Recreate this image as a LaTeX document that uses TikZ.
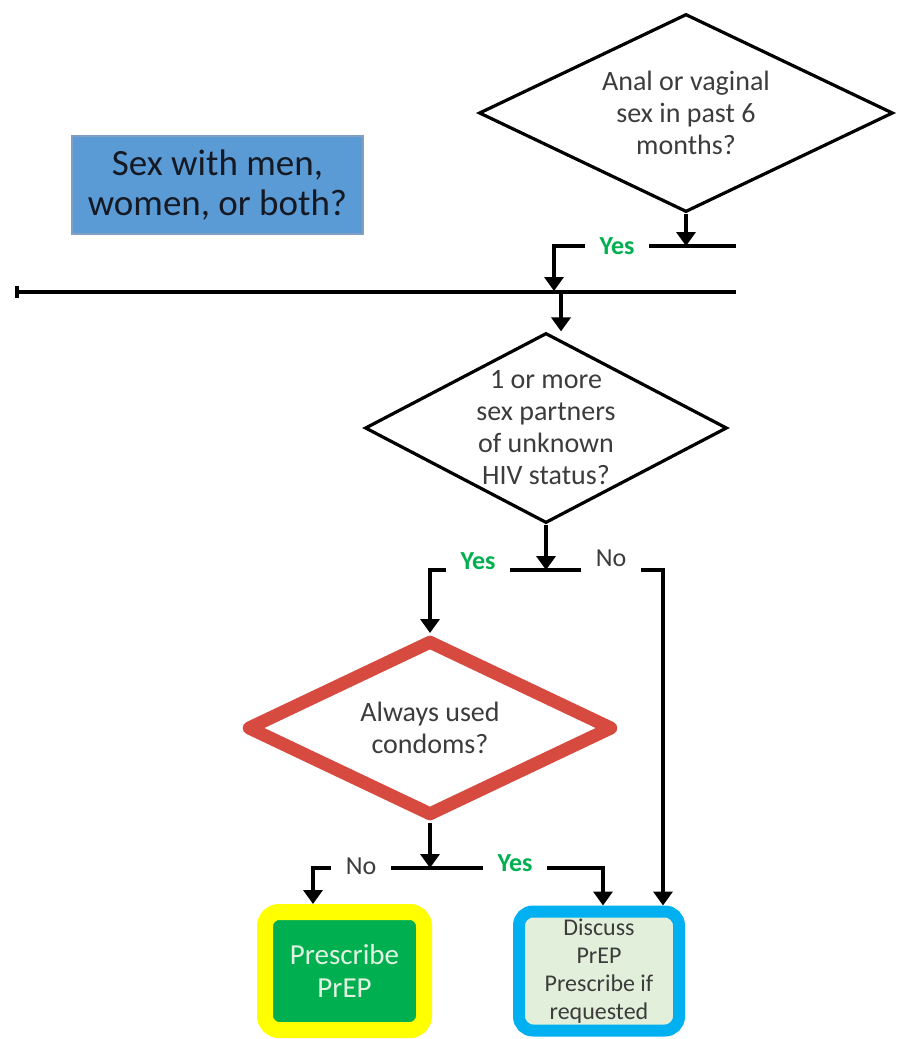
\documentclass[tikz,border=0pt]{standalone}
\usepackage{fontspec}
\setmainfont{Carlito}
\usetikzlibrary{shapes.geometric, arrows.meta, calc}
\definecolor{boxblue}{RGB}{91,155,213}
\definecolor{boxedge}{RGB}{130,160,195}
\definecolor{yesgreen}{RGB}{0,176,80}
\definecolor{prepgreen}{RGB}{0,176,80}
\definecolor{ringyellow}{RGB}{255,255,0}
\definecolor{ringcyan}{RGB}{0,176,240}
\definecolor{paleleaf}{RGB}{226,239,218}
\definecolor{condomred}{RGB}{214,74,64}
\definecolor{textgray}{RGB}{60,60,60}

\begin{document}
\begin{tikzpicture}[x=0.5pt, y=-0.5pt, line width=1.8pt,
    arr/.style={-{Triangle[width=9.5pt,length=7pt]}},
    question/.style={diamond, draw, line width=1.6pt, aspect=2, inner sep=-12pt, align=center,
        text=textgray, font=\fontsize{14}{16}\selectfont},
    answer/.style={inner xsep=6.5pt, inner ysep=0pt, font=\fontsize{13}{15}\selectfont},
    yes/.style={answer, text=yesgreen, font=\bfseries\fontsize{13}{15}\selectfont},
    no/.style={answer, text=textgray},
    outcome/.style={rectangle, rounded corners=7pt, align=center, inner sep=0pt,
        minimum width=80pt, minimum height=59.5pt}]
    \fill[white] (0,0) rectangle (903,1039);
    \useasboundingbox (0,0) rectangle (903,1039);
    \node[draw=boxedge, fill=boxblue, line width=0.6pt, minimum width=145.5pt,
        minimum height=49pt, align=center, text={rgb,255:red,20;green,25;blue,35},
        font=\fontsize{18.5}{20}\selectfont]
        (sexq) at (217.5,185) {Sex with men,\\women, or both?};
    \node[question, minimum width=207pt, minimum height=99pt] (anal) at (686,113)
        {Anal or vaginal\\sex in past 6\\months?};
    \node[question, minimum width=181pt, minimum height=95pt] (partners) at (546,428)
        {1 or more\\sex partners\\of unknown\\HIV status?};
    \node[question, draw=condomred, line width=6.5pt, line join=round,
        minimum width=183.5pt, minimum height=88.5pt] (condoms) at (430,728)
        {Always used\\condoms?};
    \node[outcome, draw=ringyellow, fill=prepgreen, line width=8pt,
        text={rgb,255:red,225;green,242;blue,225}, font=\fontsize{14.5}{16.5}\selectfont,
        minimum width=79.5pt, minimum height=59pt] (prep) at (344.5,971)
        {Prescribe\\PrEP};
    \node[outcome, draw=ringcyan, fill=paleleaf, line width=6pt, text=textgray,
        font=\fontsize{12}{14}\selectfont] (discuss) at (599,971)
        {Discuss\\PrEP\\Prescribe if\\requested};
    \coordinate (lineL) at (15,292);
    \coordinate (lineR) at (736,292);
    \coordinate (topR) at (736,246);
    \coordinate (drop1) at (554,291);
    \coordinate (drop2) at (561,292);
    \coordinate (j2) at (548,570);
    \coordinate (j3) at (430,868);
    \node[yes] (yes1) at (617,246) {Yes};
    \node[yes] (yes2) at (478,561) {Yes};
    \node[no] (no2) at (611,558) {No};
    \node[no] (no3) at (361,866) {No};
    \node[yes] (yes3) at (515,863) {Yes};
    \draw[{Bar[width=6pt]}-] (lineL) -- (lineR);
    \draw[arr] (anal.south) -- (anal.south |- topR);
    \draw (yes1.east) -- (topR);
    \draw[arr] (yes1.west) -| (drop1);
    \draw[arr] (drop2) -- (drop2 |- partners.north);
    \draw[arr] (partners.south) -- (partners.south |- j2);
    \draw (yes2.east |- j2) -- (no2.west |- j2);
    \draw[arr] (yes2.west |- j2) -| (condoms.north);
    \draw[arr] (no2.east |- j2) -| ([xshift=32pt]discuss.north);
    \draw[arr] (condoms.south) -- (condoms.south |- j3);
    \draw (no3.east |- j3) -- (yes3.west |- j3);
    \draw[arr] (no3.west |- j3) -| ([xshift=-15.75pt]prep.north);
    \draw[arr] (yes3.east |- j3) -| ([xshift=2pt]discuss.north);
\end{tikzpicture}
\end{document}
